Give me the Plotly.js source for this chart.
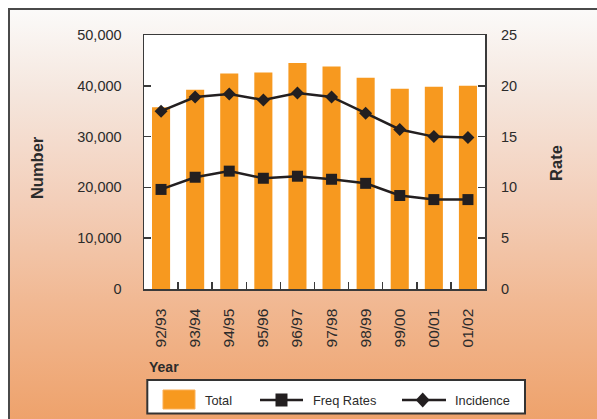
<!DOCTYPE html>
<html>
<head>
<meta charset="utf-8">
<script src="https://cdn.plot.ly/plotly-3.0.1.min.js"></script>
<style>
  html, body { margin: 0; padding: 0; width: 597px; height: 419px; overflow: hidden; background: #ffffff; }
  #frame {
    position: absolute; left: 8px; top: 8px; width: 600px; height: 420px;
    border-left: 2px solid #4a4a4a; border-top: 2px solid #4a4a4a;
    background: linear-gradient(to bottom, #fbfaf9 0%, #f5e6dd 20%, #f3cfba 45%, #f1b892 70%, #eea068 100%);
  }
  #chart { position: absolute; left: 0; top: 0; width: 597px; height: 419px; }
</style>
</head>
<body>
<div id="frame"></div>
<div id="chart"></div>
<script>
const years = ["92/93", "93/94", "94/95", "95/96", "96/97", "97/98", "98/99", "99/00", "00/01", "01/02"];
const totalNumber = [35800, 39200, 42400, 42600, 44500, 43800, 41600, 39400, 39800, 40000];
const freqRates = [9.8, 11.0, 11.6, 10.9, 11.1, 10.8, 10.4, 9.2, 8.8, 8.8];
const incidence = [17.5, 18.9, 19.2, 18.6, 19.3, 18.9, 17.3, 15.7, 15.0, 14.9];
const leftTicks = [0, 10000, 20000, 30000, 40000, 50000];
const leftTickText = ["0", "10,000", "20,000", "30,000", "40,000", "50,000"];
const rightTicks = [0, 5, 10, 15, 20, 25];
const seriesNames = ["Total", "Freq Rates", "Incidence"];

const sans = "'Liberation Sans', Arial, Helvetica, sans-serif";
const ink = "#2b2b2b";
const lineInk = "#231f20";
const orange = "#f7991f";

const traces = [
  {
    type: "bar", name: seriesNames[0], x: years, y: totalNumber,
    marker: { color: orange }, width: 0.53, yaxis: "y", showlegend: false
  },
  {
    type: "scatter", mode: "lines+markers", name: seriesNames[1], x: years, y: freqRates,
    yaxis: "y2", line: { color: lineInk, width: 2.5 }, showlegend: false,
    marker: { symbol: "square", size: 11, color: lineInk }
  },
  {
    type: "scatter", mode: "lines+markers", name: seriesNames[2], x: years, y: incidence,
    yaxis: "y2", line: { color: lineInk, width: 2.5 }, showlegend: false,
    marker: { symbol: "diamond", size: 10, color: lineInk }
  }
];

// Legend drawn with shapes + annotations (paper coordinates)
const legendShapes = [
  { type: "rect", xref: "paper", yref: "paper", x0: 0.0097, x1: 1.1173, y0: -0.4902, y1: -0.3583,
    line: { color: "#333333", width: 2 }, fillcolor: "#ffffff", layer: "above" },
  { type: "rect", xref: "paper", yref: "paper", x0: 0.0557, x1: 0.1496, y0: -0.4724, y1: -0.3976,
    line: { color: "#fbb25a", width: 1 }, fillcolor: orange },
  { type: "line", xref: "paper", yref: "paper", x0: 0.3402, x1: 0.4663, y0: -0.437, y1: -0.437,
    line: { color: lineInk, width: 2.5 } },
  { type: "rect", xref: "paper", yref: "paper", xsizemode: "pixel", ysizemode: "pixel",
    xanchor: 0.4032, yanchor: -0.437, x0: -6, x1: 6, y0: -6.5, y1: 6.5,
    line: { width: 0 }, fillcolor: lineInk },
  { type: "line", xref: "paper", yref: "paper", x0: 0.7566, x1: 0.8856, y0: -0.437, y1: -0.437,
    line: { color: lineInk, width: 2.5 } },
  { type: "path", xref: "paper", yref: "paper", xsizemode: "pixel", ysizemode: "pixel",
    xanchor: 0.8173, yanchor: -0.437, path: "M0,7.5 L7,0 L0,-7.5 L-7,0 Z",
    line: { width: 0 }, fillcolor: lineInk }
];

const legendTexts = [
  { text: seriesNames[0], x: 0.1740 },
  { text: seriesNames[1], x: 0.4890 },
  { text: seriesNames[2], x: 0.9063 }
].map(o => ({
  text: o.text, xref: "paper", yref: "paper", x: o.x, y: -0.439,
  xanchor: "left", yanchor: "middle", showarrow: false,
  font: { family: sans, size: 12.8, color: ink }
}));

const layout = {
  width: 597, height: 419,
  margin: { l: 144, r: 112, t: 35, b: 130 },
  paper_bgcolor: "rgba(0,0,0,0)",
  plot_bgcolor: "#ffffff",
  showlegend: false,
  font: { family: sans, color: ink },
  xaxis: {
    type: "category", tickangle: -90, range: [-0.5, years.length - 0.5], autorange: false,
    ticks: "inside", ticklen: 7, tickwidth: 1.5, tickcolor: "#3a3a3a", tickson: "boundaries",
    showline: true, linecolor: "#3a3a3a", linewidth: 1.5, mirror: true,
    showgrid: false, zeroline: false,
    tickfont: { family: sans, size: 15.5, color: ink },
    ticklabelstandoff: 12
  },
  yaxis: {
    range: [0, 50000], tickvals: leftTicks, ticktext: leftTickText,
    ticks: "inside", ticklen: 7, tickwidth: 1.5, tickcolor: "#3a3a3a",
    showline: true, linecolor: "#3a3a3a", linewidth: 1.5, mirror: true,
    showgrid: false, zeroline: false,
    tickfont: { family: sans, size: 14.5, color: ink },
    ticklabelstandoff: 18
  },
  yaxis2: {
    range: [0, 25], tickvals: rightTicks, overlaying: "y", side: "right",
    ticks: "inside", ticklen: 7, tickwidth: 1.5, tickcolor: "#3a3a3a",
    showline: false, showgrid: false, zeroline: false,
    tickfont: { family: sans, size: 14.5, color: ink },
    ticklabelstandoff: 15
  },
  shapes: legendShapes,
  annotations: [
    { text: "<b>Number</b>", xref: "paper", yref: "paper", x: -0.3138, y: 0.48,
      xanchor: "center", yanchor: "middle", textangle: -90, showarrow: false,
      font: { family: sans, size: 16.5, color: ink } },
    { text: "<b>Rate</b>", xref: "paper", yref: "paper", x: 1.208, y: 0.496,
      xanchor: "center", yanchor: "middle", textangle: -90, showarrow: false,
      font: { family: sans, size: 16.5, color: ink } },
    { text: "<b>Year</b>", xref: "paper", yref: "paper", x: 0.0088, y: -0.307,
      xanchor: "left", yanchor: "middle", showarrow: false,
      font: { family: sans, size: 14, color: ink } }
  ].concat(legendTexts)
};

Plotly.newPlot("chart", traces, layout, { displayModeBar: false, staticPlot: true });
</script>
</body>
</html>
